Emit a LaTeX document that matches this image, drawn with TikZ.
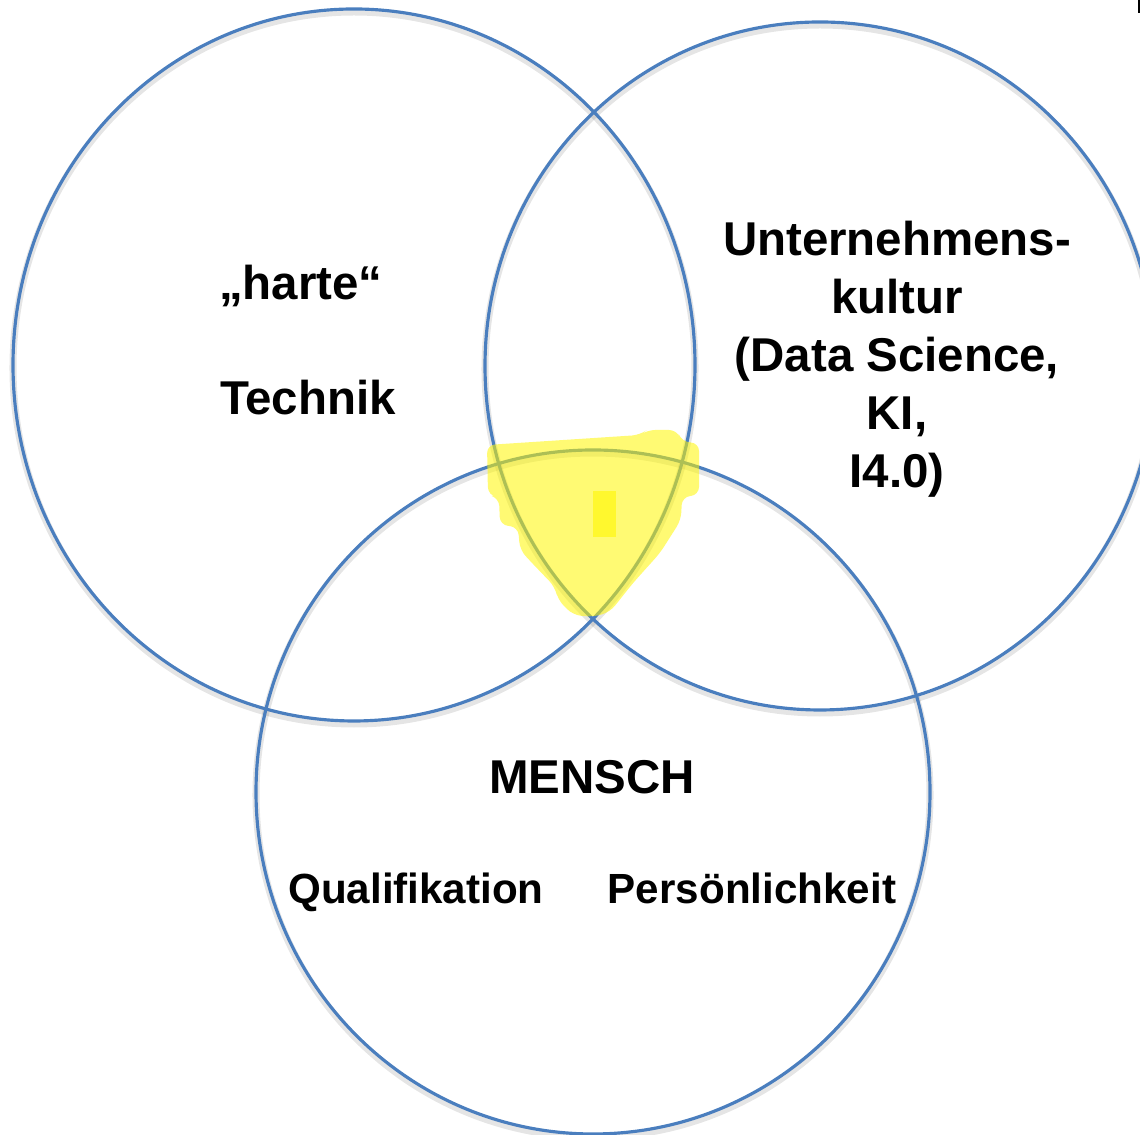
\documentclass[tikz,border=0pt]{standalone}
\usepackage{fontspec}
\setmainfont{Liberation Sans}
\definecolor{vennblue}{RGB}{74,126,190}
\definecolor{marker}{RGB}{255,246,0}
\begin{document}
\begin{tikzpicture}
    [
    ring/.style={draw=vennblue,line width=0.9pt},
    ringshadow/.style={draw=black,opacity=0.10,line width=2pt},
    title/.style={font=\bfseries\fontsize{13.5}{16.5}\selectfont,align=center,inner sep=0pt},
    subtitle/.style={font=\bfseries\fontsize{12}{14.5}\selectfont,inner sep=0pt,anchor=base},
    highlight/.style={fill=marker,opacity=0.55,rounded corners=0.08cm}
    ]
    \useasboundingbox (0,0) rectangle (11.40,11.35);
    \clip (0,0) rectangle (11.40,11.35);

    % the three sets
    \draw [ringshadow] (3.54,7.67) ellipse (3.41 and 3.56);
    \draw [ringshadow] (8.20,7.66) ellipse (3.35 and 3.44);
    \draw [ringshadow] (5.93,3.40) ellipse (3.37 and 3.42);
    \draw [ring] (3.54,7.70) ellipse (3.41 and 3.56);
    \draw [ring] (8.20,7.69) ellipse (3.35 and 3.44);
    \draw [ring] (5.93,3.43) ellipse (3.37 and 3.42);

    % marker over the common part
    \fill [highlight] (4.87,6.90) -- (6.40,7.00) -- (6.47,7.05) -- (6.77,7.05)
        -- (6.82,6.93) -- (6.99,6.92) -- (6.99,6.40) -- (6.82,6.38) -- (6.81,6.15)
        -- (6.60,5.82) -- (6.33,5.52) -- (6.10,5.23) -- (5.93,5.18) -- (5.73,5.20)
        -- (5.58,5.35) -- (5.55,5.48) -- (5.32,5.72) -- (5.20,5.85) -- (5.18,6.08)
        -- (5.00,6.10) -- (4.99,6.37) -- (4.88,6.40) -- cycle;
    \fill [marker,opacity=0.6] (5.93,5.98) rectangle (6.16,6.44);
    \fill [black] (11.38,11.22) rectangle (11.40,11.35);

    \node (harte) at (3.01,8.35) [title,anchor=base] {„harte“};
    \node (technik) at (3.08,7.20) [title,anchor=base] {Technik};
    \node (kultur) at (8.97,7.76) [title] {Unternehmens-\\kultur\\(Data Science,\\KI,\\I4.0)};

    \node (mensch) at (5.92,3.41) [title,anchor=base] {MENSCH};
    \node (quali) at (4.16,2.31) [subtitle] {Qualifikation};
    \node (person) at (7.52,2.31) [subtitle] {Persönlichkeit};
  \end{tikzpicture}
\end{document}
